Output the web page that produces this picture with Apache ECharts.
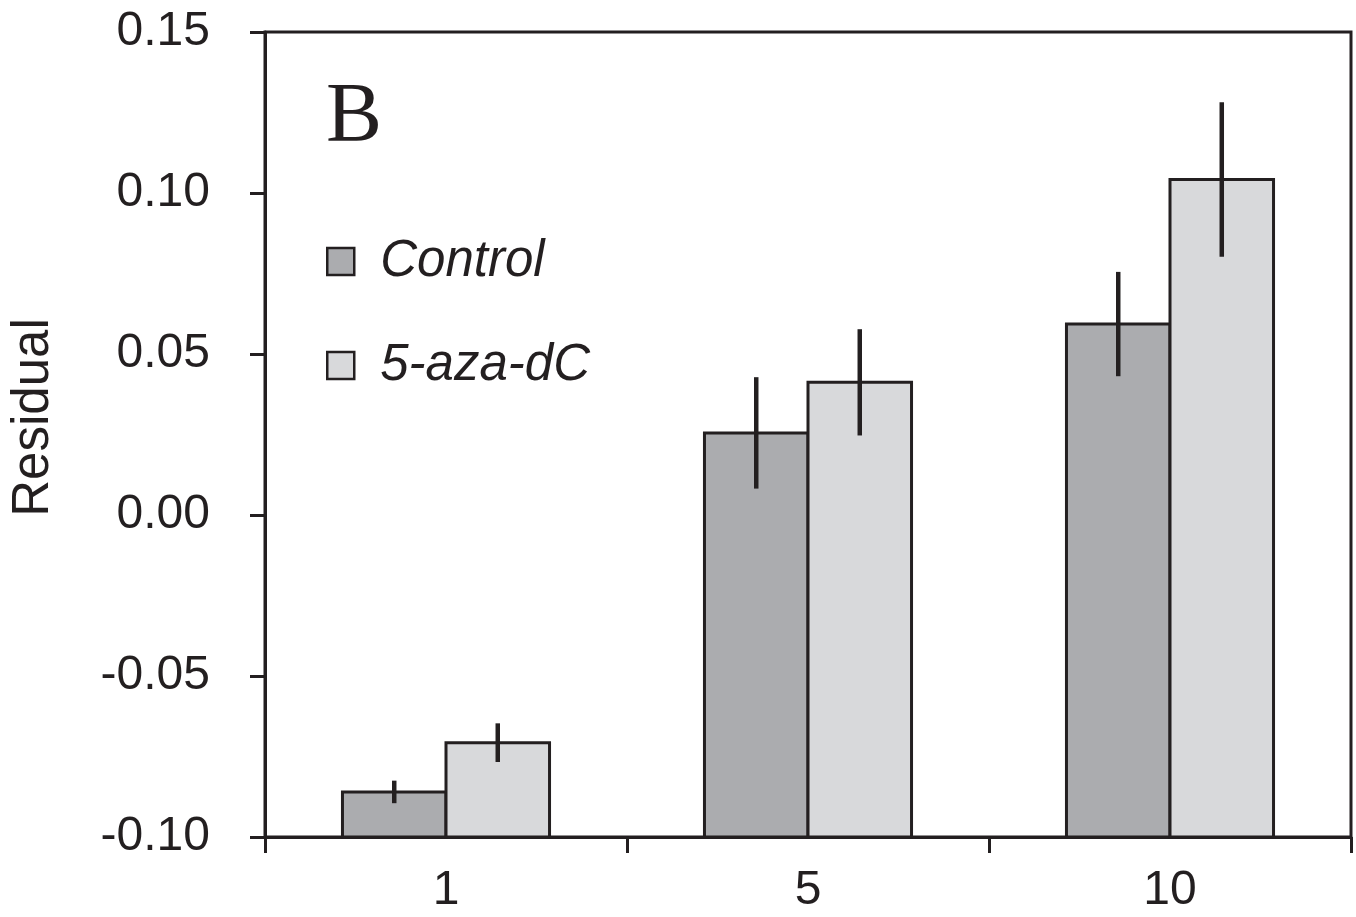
<!DOCTYPE html>
<html>
<head>
<meta charset="utf-8">
<script src="https://cdn.jsdelivr.net/npm/echarts@6/dist/echarts.min.js"></script>
<style>html,body{margin:0;padding:0;background:#fff;}#c{width:1356px;height:917px;}</style>
</head>
<body>
<div id="c"></div>
<script>
var categories = ['1', '5', '10'];
var controlValues = [-0.0860, 0.0255, 0.0593];
var controlErrors = [0.0035, 0.0173, 0.0162];
var azaValues = [-0.0707, 0.0412, 0.1042];
var azaErrors = [0.0060, 0.0165, 0.0240];
var yTicks = { min: -0.10, max: 0.15, interval: 0.05 };
var seriesNames = ['Control', '5-aza-dC'];
var panelLabel = 'B';

var INK = '#231f20';
var colors = ['#abacaf', '#d8d9db'];

function makeData(vals, errs) {
  return vals.map(function (v, i) { return [i, v, errs[i]]; });
}

function renderer(side) {
  return function (params, api) {
    var idx = api.value(0);
    var v = api.value(1);
    var e = api.value(2);
    var band = api.size([1, 0])[0];
    var bw = band * 0.286;
    var c = api.coord([idx, v]);
    var base = api.coord([idx, yTicks.min])[1];
    var x0 = side < 0 ? c[0] - bw : c[0];
    var cx = x0 + bw / 2;
    var eTop = api.coord([idx, v + e])[1];
    var eBot = api.coord([idx, v - e])[1];
    return {
      type: 'group',
      children: [
        {
          type: 'rect',
          shape: { x: x0, y: c[1], width: bw, height: base - c[1] },
          style: { fill: colors[side < 0 ? 0 : 1], stroke: INK, lineWidth: 3 }
        },
        {
          type: 'line',
          shape: { x1: cx, y1: eTop, x2: cx, y2: eBot },
          style: { stroke: INK, lineWidth: 4.5 }
        }
      ]
    };
  };
}

var chart = echarts.init(document.getElementById('c'));
chart.setOption({
  backgroundColor: '#fff',
  animation: false,
  title: {
    text: panelLabel,
    left: 321,
    top: 72,
    textStyle: { fontFamily: 'Liberation Serif', fontSize: 84, fontWeight: 'normal', color: INK }
  },
  legend: {
    data: seriesNames,
    orient: 'vertical',
    left: 326,
    top: 236,
    padding: 0,
    icon: 'rect',
    itemWidth: 27,
    itemHeight: 27,
    itemGap: 53,
    itemStyle: { borderColor: INK, borderWidth: 2.5 },
    textStyle: { fontFamily: 'Liberation Sans', fontSize: 51, fontStyle: 'italic', color: INK, padding: [0, 0, 0, 21] },
    selectedMode: false
  },
  grid: {
    left: 265, right: 5, top: 32, bottom: 80,
    containLabel: false,
    outerBoundsMode: 'none',
    show: true, borderColor: INK, borderWidth: 3, backgroundColor: 'transparent'
  },
  xAxis: {
    type: 'category',
    data: categories,
    boundaryGap: true,
    axisLine: { onZero: false, lineStyle: { color: INK, width: 3 } },
    axisTick: { show: true, length: 16, alignWithLabel: false, lineStyle: { color: INK, width: 3 } },
    axisLabel: { fontFamily: 'Liberation Sans', fontSize: 48, color: INK, margin: 30 },
    splitLine: { show: false }
  },
  yAxis: {
    type: 'value',
    min: yTicks.min,
    max: yTicks.max,
    interval: yTicks.interval,
    name: 'Residual',
    nameLocation: 'middle',
    nameRotate: 90,
    nameGap: 206,
    nameTextStyle: { fontFamily: 'Liberation Sans', fontSize: 51, color: INK, padding: [0, 0, 0, 34] },
    axisLine: { show: true, onZero: false, lineStyle: { color: INK, width: 3 } },
    axisTick: { show: true, length: 15, lineStyle: { color: INK, width: 3 } },
    axisLabel: {
      fontFamily: 'Liberation Sans', fontSize: 48, color: INK, margin: 55,
      formatter: function (v) { return v.toFixed(2); }
    },
    splitLine: { show: false }
  },
  series: [
    {
      name: seriesNames[0],
      type: 'custom',
      color: colors[0],
      itemStyle: { color: colors[0] },
      renderItem: renderer(-1),
      encode: { x: 0, y: 1 },
      data: makeData(controlValues, controlErrors),
      clip: false
    },
    {
      name: seriesNames[1],
      type: 'custom',
      color: colors[1],
      itemStyle: { color: colors[1] },
      renderItem: renderer(1),
      encode: { x: 0, y: 1 },
      data: makeData(azaValues, azaErrors),
      clip: false
    }
  ]
});
</script>
</body>
</html>
